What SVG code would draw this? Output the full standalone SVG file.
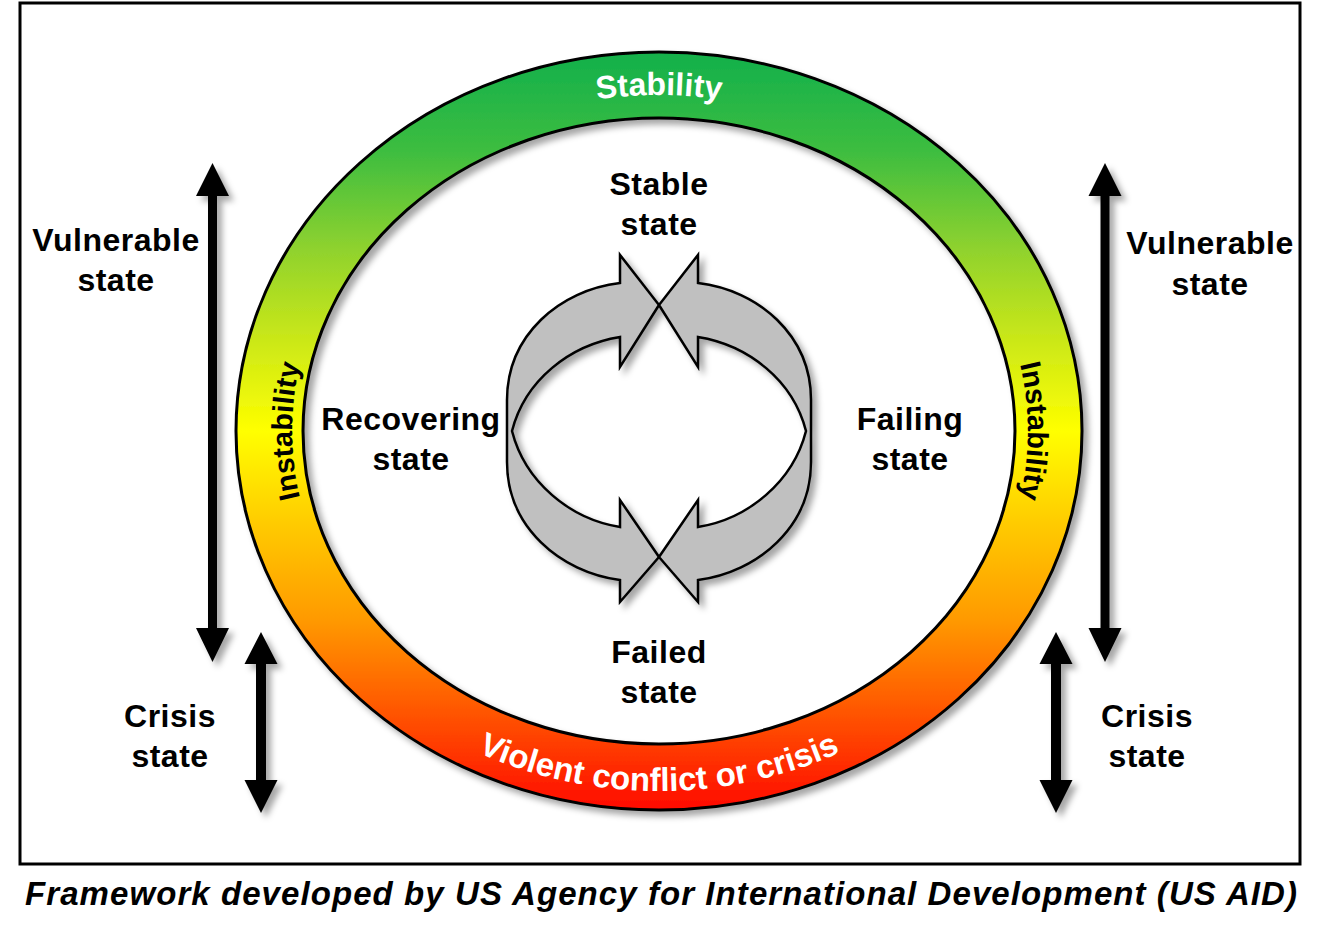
<svg xmlns="http://www.w3.org/2000/svg" width="1334" height="936" viewBox="0 0 1334 936">
<style>
.lbl{font-family:"Liberation Sans",Arial,sans-serif;font-weight:bold;font-size:32px;letter-spacing:0.5px;fill:#000;text-anchor:middle}
.ring{font-family:"Liberation Sans",Arial,sans-serif;font-weight:bold;font-size:32px}
.arr{fill:#000}
.cyc{fill:#c0c0c0;stroke:#000;stroke-width:2.5;stroke-linejoin:miter}
</style>
<defs>
<linearGradient id="rg" gradientUnits="userSpaceOnUse" x1="0" y1="52" x2="0" y2="810">
<stop offset="0" stop-color="#12b04b"/>
<stop offset="0.13" stop-color="#3dbd40"/>
<stop offset="0.26" stop-color="#8fd22e"/>
<stop offset="0.37" stop-color="#c6e61a"/>
<stop offset="0.5" stop-color="#ffff00"/>
<stop offset="0.62" stop-color="#ffcc00"/>
<stop offset="0.75" stop-color="#ff9900"/>
<stop offset="0.88" stop-color="#ff5000"/>
<stop offset="1" stop-color="#ff0a00"/>
</linearGradient>
<filter id="sh" x="-10%" y="-10%" width="120%" height="120%">
<feDropShadow dx="5" dy="5" stdDeviation="3" flood-color="#000" flood-opacity="0.35"/>
</filter>
<path id="pTop" d="M 279 431 A 380 336 0 0 1 1039 431"/>
<path id="pBot" d="M 257 431 A 402 360 0 0 0 1061 431"/>
<path id="pLeft" d="M 659 756 A 367 325 0 0 1 659 106"/>
<path id="pRight" d="M 659 106 A 369 325 0 0 1 659 756"/>
</defs>
<rect x="0" y="0" width="1334" height="936" fill="#fff"/>
<rect x="20" y="3" width="1280" height="861" fill="none" stroke="#000" stroke-width="3"/>

<g id="ring" filter="url(#sh)">
<path d="M 236 431 A 423 379 0 1 0 1082 431 A 423 379 0 1 0 236 431 Z M 303 431 A 356 313 0 1 0 1015 431 A 356 313 0 1 0 303 431 Z" fill="url(#rg)" fill-rule="evenodd" stroke="#000" stroke-width="3"/>
</g>
<g id="ring-labels" class="ring">
<text fill="#fff"><textPath href="#pTop" startOffset="50%" text-anchor="middle">Stability</textPath></text>
<text fill="#fff" font-size="33"><textPath href="#pBot" startOffset="50%" text-anchor="middle">Violent conflict or crisis</textPath></text>
<text fill="#000" font-size="29"><textPath href="#pLeft" startOffset="50%" text-anchor="middle">Instability</textPath></text>
<text fill="#000" font-size="29"><textPath href="#pRight" startOffset="50%" text-anchor="middle">Instability</textPath></text>
</g>

<g id="cycle" filter="url(#sh)">
<path class="cyc" d="M 620 283 L 620 255 L 659 305 L 620 367 L 620 337 C 570 345 525 380 512 431 C 525 482 570 519 620 527 L 620 500 L 659 557 L 620 602 L 620 580 C 560 572 507 527 507 462 L 507 400 C 507 335 560 290 620 283 Z"/>
<path class="cyc" d="M 698 283 L 698 255 L 659 305 L 698 367 L 698 337 C 748 345 793 380 806 431 C 793 482 748 519 698 527 L 698 500 L 659 557 L 698 602 L 698 580 C 758 572 811 527 811 462 L 811 400 C 811 335 758 290 698 283 Z"/>
</g>

<g id="arrows" filter="url(#sh)">
<polygon class="arr" points="212.5,163 229,196 217,196 217,628 229,628 212.5,662 196,628 208,628 208,196 196,196"/>
<polygon class="arr" points="261,632 277.5,664 266,664 266,780 277.5,780 261,813 244.5,780 256,780 256,664 244.5,664"/>
<polygon class="arr" points="1105,163 1121.5,196 1109.5,196 1109.5,628 1121.5,628 1105,662 1088.5,628 1100.5,628 1100.5,196 1088.5,196"/>
<polygon class="arr" points="1056,632 1072.5,664 1061,664 1061,780 1072.5,780 1056,813 1039.5,780 1051,780 1051,664 1039.5,664"/>
</g>

<g id="vulnerable-left"><text class="lbl" x="116" y="251">Vulnerable</text><text class="lbl" x="116" y="291">state</text></g>
<g id="vulnerable-right"><text class="lbl" x="1210" y="254">Vulnerable</text><text class="lbl" x="1210" y="295">state</text></g>
<g id="stable"><text class="lbl" x="659" y="195">Stable</text><text class="lbl" x="659" y="235">state</text></g>
<g id="recovering"><text class="lbl" x="411" y="430">Recovering</text><text class="lbl" x="411" y="470">state</text></g>
<g id="failing"><text class="lbl" x="910" y="430">Failing</text><text class="lbl" x="910" y="470">state</text></g>
<g id="failed"><text class="lbl" x="659" y="663">Failed</text><text class="lbl" x="659" y="703">state</text></g>
<g id="crisis-left"><text class="lbl" x="170" y="727">Crisis</text><text class="lbl" x="170" y="767">state</text></g>
<g id="crisis-right"><text class="lbl" x="1147" y="727">Crisis</text><text class="lbl" x="1147" y="767">state</text></g>

<text id="caption" x="25" y="905" font-family="'Liberation Sans',Arial,sans-serif" font-weight="bold" font-style="italic" font-size="33" textLength="1272" lengthAdjust="spacing">Framework developed by US Agency for International Development (US AID)</text>
</svg>
